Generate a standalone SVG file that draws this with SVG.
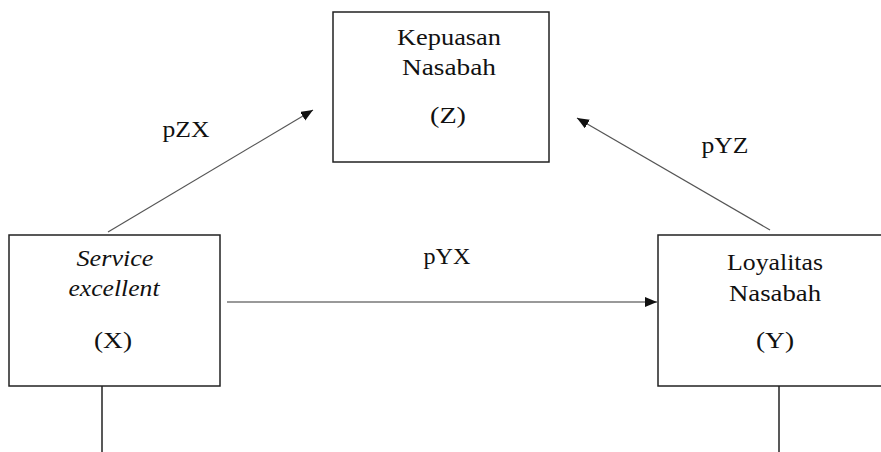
<svg xmlns="http://www.w3.org/2000/svg" width="881" height="452" viewBox="0 0 881 452">
<style>
.box{fill:#fff;stroke:#222;stroke-width:1.5}
.t{font-family:'Liberation Serif','DejaVu Serif',serif;font-size:23px;fill:#111;text-anchor:middle}
.i{font-style:italic}
.c{fill:none;stroke:#555;stroke-width:1.2}
.h{fill:none;stroke:#999;stroke-width:2.2}
.v{fill:none;stroke:#222;stroke-width:1.5}
</style>
<defs>
<marker id="ah" markerUnits="userSpaceOnUse" markerWidth="14" markerHeight="12" refX="12" refY="5" orient="auto" viewBox="0 0 14 12">
<path d="M0,0 L12,5 L0,10 Z" fill="#111"/>
</marker>
</defs>
<g id="node-z">
<rect class="box" x="333" y="12" width="216" height="150"/>
<text class="t" x="449" y="45" textLength="104" lengthAdjust="spacingAndGlyphs">Kepuasan</text>
<text class="t" x="449" y="75" textLength="94" lengthAdjust="spacingAndGlyphs">Nasabah</text>
<text class="t" x="448" y="123" textLength="36" lengthAdjust="spacingAndGlyphs">(Z)</text>
</g>
<g id="node-x">
<rect class="box" x="9" y="235" width="211" height="151"/>
<text class="t i" x="115" y="266" textLength="77" lengthAdjust="spacingAndGlyphs">Service</text>
<text class="t i" x="114" y="296" textLength="91" lengthAdjust="spacingAndGlyphs">excellent</text>
<text class="t" x="113" y="348" textLength="38" lengthAdjust="spacingAndGlyphs">(X)</text>
</g>
<g id="node-y">
<rect class="box" x="658" y="235" width="240" height="151"/>
<text class="t" x="775" y="270" textLength="96" lengthAdjust="spacingAndGlyphs">Loyalitas</text>
<text class="t" x="775" y="301" textLength="92" lengthAdjust="spacingAndGlyphs">Nasabah</text>
<text class="t" x="775" y="348" textLength="38" lengthAdjust="spacingAndGlyphs">(Y)</text>
</g>
<g id="connectors">
<line class="c" x1="108" y1="232" x2="313" y2="110" marker-end="url(#ah)"/>
<line class="c" x1="770" y1="230" x2="577" y2="118" marker-end="url(#ah)"/>
<line class="h" x1="227" y1="302" x2="657" y2="302" marker-end="url(#ah)"/>
<line class="v" x1="102" y1="386" x2="102" y2="452"/>
<line class="v" x1="779" y1="386" x2="779" y2="452"/>
</g>
<g id="labels">
<text class="t" x="186" y="137" textLength="47" lengthAdjust="spacingAndGlyphs">pZX</text>
<text class="t" x="725" y="153" textLength="47" lengthAdjust="spacingAndGlyphs">pYZ</text>
<text class="t" x="447" y="264" textLength="47" lengthAdjust="spacingAndGlyphs">pYX</text>
</g>
</svg>
